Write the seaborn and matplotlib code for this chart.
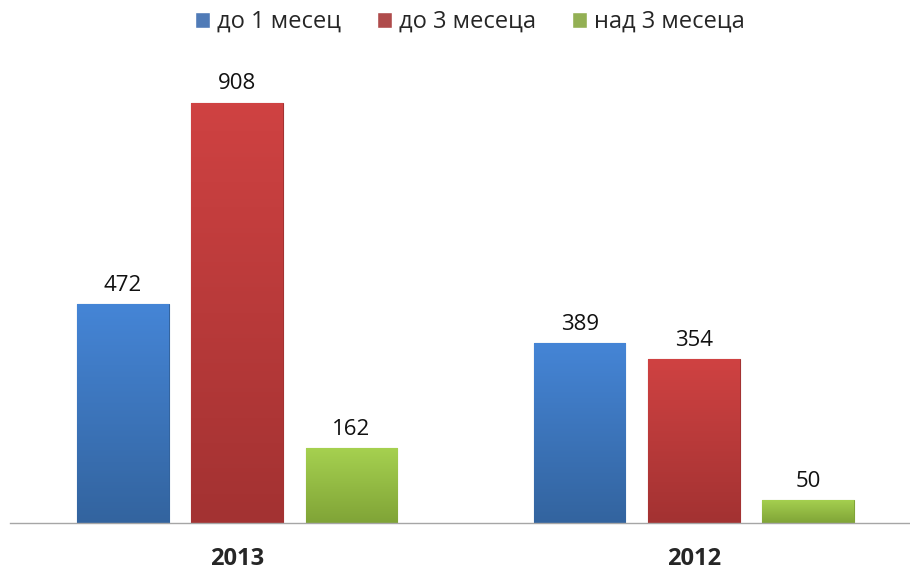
import numpy as np
import pandas as pd
import matplotlib
matplotlib.use("Agg")
import matplotlib.pyplot as plt
import matplotlib.colors as mcolors
import seaborn as sns

years = ["2013", "2012"]
series = ["до 1 месец", "до 3 месеца", "над 3 месеца"]
do_1_mesec = [472, 389]
do_3_meseca = [908, 354]
nad_3_meseca = [162, 50]

df = pd.DataFrame({
    "year": years * 3,
    "group": [series[0]] * 2 + [series[1]] * 2 + [series[2]] * 2,
    "value": do_1_mesec + do_3_meseca + nad_3_meseca,
})

colors = ["#3f78c8", "#c03a3a", "#98bf45"]
tops = ["#4585d6", "#cf4242", "#a6d150"]
bottoms = ["#33649f", "#a33232", "#80a437"]

sns.set_theme(style="white")
plt.rcParams["font.family"] = ["Open Sans", "DejaVu Sans"]

fig = plt.figure(figsize=(9.1, 5.69), dpi=100)
ax = fig.add_axes([10 / 910, 46 / 569, 900 / 910, 463 / 569])

sns.barplot(data=df, x="year", y="value", hue="group", order=years,
            hue_order=series, palette=colors, width=0.75, gap=0.2,
            ax=ax, legend=True)

# gradient fill on every bar
for cont, top, bot in zip(ax.containers, tops, bottoms):
    cmap = mcolors.LinearSegmentedColormap.from_list("g", [bot, top])
    for bar in cont:
        x0, y0 = bar.get_x(), bar.get_y()
        w, h = bar.get_width(), bar.get_height()
        grad = np.linspace(0, 1, 100).reshape(-1, 1)
        im = ax.imshow(grad, cmap=cmap, aspect="auto", origin="lower",
                       extent=[x0, x0 + w, y0, y0 + h], zorder=bar.get_zorder())
        im.set_clip_path(bar)
        bar.set_edgecolor(bot)
        bar.set_linewidth(0.8)
    ax.bar_label(cont, padding=6, fontsize=16, color="#111111")

ax.set_xlim(-0.497, 1.473)
ax.set_ylim(0, 1000)

ax.set_xlabel("")
ax.set_ylabel("")
ax.set_yticks([])
ax.tick_params(axis="x", length=0, pad=17)
for lbl in ax.get_xticklabels():
    lbl.set_fontweight("bold")
    lbl.set_fontsize(17)
for side in ["top", "right", "left"]:
    ax.spines[side].set_visible(False)
ax.spines["bottom"].set_color("#a6a6a6")
ax.spines["bottom"].set_linewidth(1)

handles, labels = ax.get_legend_handles_labels()
ax.legend(handles, labels, loc="center", bbox_to_anchor=(470 / 910, 1 - 22 / 569),
          bbox_transform=fig.transFigure, ncol=3, frameon=False, fontsize=17,
          handlelength=0.65, handleheight=0.65, handletextpad=0.3, columnspacing=1.5)

fig.savefig("out.png", dpi=100)
